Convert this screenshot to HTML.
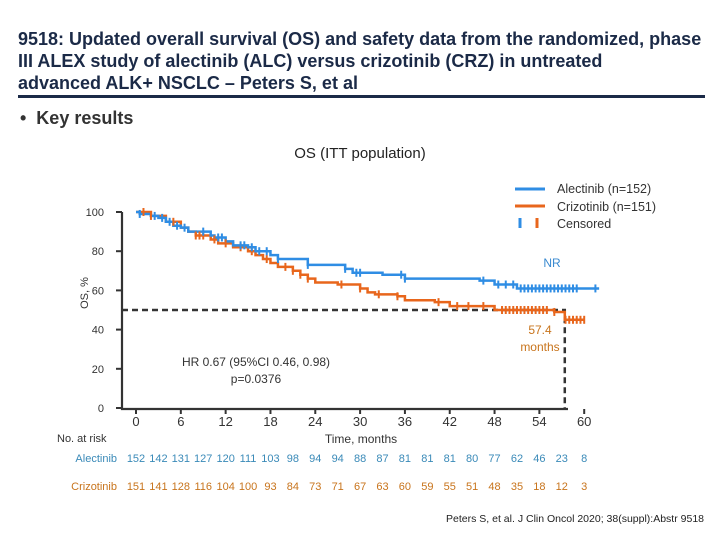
<!DOCTYPE html>
<html><head><meta charset="utf-8"><style>
body{margin:0;width:720px;height:540px;background:#fff;overflow:hidden;font-family:"Liberation Sans",sans-serif;position:relative}
.t{position:absolute;left:18px;top:28px;font-weight:bold;font-size:18px;line-height:22px;color:#1b2a47;transform:scaleX(1.0);transform-origin:left top;white-space:nowrap}
.rule{position:absolute;left:18px;top:95px;width:687px;height:3px;background:#1b2a47}
.kr{position:absolute;left:20px;top:108px;font-size:18px;font-weight:bold;color:#333;white-space:nowrap}
</style></head><body>
<div class="t">9518: Updated overall survival (OS) and safety data from the randomized, phase<br>III ALEX study of alectinib (ALC) versus crizotinib (CRZ) in untreated<br>advanced ALK+ NSCLC – Peters S, et al</div>
<div class="rule"></div>
<div class="kr">•&nbsp;&nbsp;Key results</div>
<svg id="c" width="720" height="540" style="position:absolute;left:0;top:0" font-family="Liberation Sans, sans-serif"></svg>
<script>
const xTicks=[0,6,12,18,24,30,36,42,48,54,60];
const yTicks=[0,20,40,60,80,100];
const alcT=[0,0.5,2,3,4,5,6,7,10,10.5,12,13,15,16,18,19,23,28,29,33,36,46,48,51,62];
const alcS=[100,99,98,97,95,93,92,90,88,87,85,83,82,80,78,76,73,71,69,68,66,65,63,61,61];
const crzT=[0,2,4,6,7,8,10,11,13,15,16,17,18,19,21,22,23,24,27,30,31,32,35,36,40,42,48,56,57.4,60];
const crzS=[100,98,95,92,90,88,86,84,82,80,78,76,74,72,70,68,66,64,63,61,59,58,57,55,54,52,50,49,45,45];
const alcCens=[0.5,2.5,3.5,4.5,5.5,6.5,9,11,11.5,14,14.5,15.5,16.5,17.5,19,23,28,29.5,30,35.5,36,46.5,48.5,49.5,50.5,51.5,52,52.5,53,53.5,54,54.5,55,55.5,56,56.5,57,57.5,58,58.5,59,61.5];
const crzCens=[1,2,5,8,8.5,9,10.5,12,14,15.5,17.5,20,21,22,23,27.5,30,32.5,35,40.5,43,44.5,46.5,49,49.5,50,50.5,51,51.5,52,52.5,53,53.5,54,54.5,55,56,57.5,58,58.5,59,59.5,60];
const alcRisk=[152,142,131,127,120,111,103,98,94,94,88,87,81,81,81,80,77,62,46,23,8];
const crzRisk=[151,141,128,116,104,100,93,84,73,71,67,63,60,59,55,51,48,35,18,12,3];
const BLUE='#2f8de4',ORANGE='#e8661c';
const sx=t=>136+t*7.47, sy=s=>408-s*1.96;
const svg=document.getElementById('c');const NS='http://www.w3.org/2000/svg';
function mk(tag,a,txt){const e=document.createElementNS(NS,tag);for(const k in a)e.setAttribute(k,a[k]);if(txt!==undefined)e.textContent=txt;svg.appendChild(e);return e;}
let e;
e=mk('text',{x:360,y:158,'font-size':15,'text-anchor':'middle',fill:'#222'},'OS (ITT population)');


e=mk('path',{d:'M122 212 V409 H568',stroke:'#333','stroke-width':2.2,fill:'none'});


yTicks.forEach(v=>{mk('line',{x1:116,x2:122,y1:sy(v),y2:sy(v),stroke:'#333','stroke-width':2});
e=mk('text',{x:104,y:sy(v)+4,'font-size':11,'text-anchor':'end',fill:'#333'},v);

});
xTicks.forEach(v=>{mk('line',{x1:sx(v),x2:sx(v),y1:409,y2:414,stroke:'#333','stroke-width':2});
e=mk('text',{x:sx(v),y:426,'font-size':13,'text-anchor':'middle',fill:'#333'},v);

});
e=mk('text',{x:88,y:293,'font-size':11,'text-anchor':'middle',fill:'#333',transform:'rotate(-90 88 293)'},'OS, %');


e=mk('text',{x:361,y:443,'font-size':12,'text-anchor':'middle',fill:'#333'},'Time, months');


e=mk('path',{d:`M122 ${sy(50)} H${sx(57.4)} V409`,stroke:'#333','stroke-width':2.5,'stroke-dasharray':'6 4',fill:'none'});


function step(T,S){let d=`M${sx(T[0])} ${sy(S[0])}`;for(let i=1;i<T.length;i++){d+=` H${sx(T[i])} V${sy(S[i])}`;}return d;}
function sAt(T,S,t){let s=S[0];for(let i=0;i<T.length;i++){if(T[i]<=t)s=S[i];}return s;}
e=mk('path',{d:step(crzT,crzS),stroke:ORANGE,'stroke-width':2.5,fill:'none'});


e=mk('path',{d:step(alcT,alcS),stroke:BLUE,'stroke-width':2.5,fill:'none'});


crzCens.forEach(t=>{const y=sy(sAt(crzT,crzS,t));e=mk('line',{x1:sx(t),x2:sx(t),y1:y-4,y2:y+4,stroke:ORANGE,'stroke-width':2});

});
alcCens.forEach(t=>{const y=sy(sAt(alcT,alcS,t));e=mk('line',{x1:sx(t),x2:sx(t),y1:y-4,y2:y+4,stroke:BLUE,'stroke-width':2});

});
e=mk('text',{x:552,y:267,'font-size':12,'text-anchor':'middle',fill:'#3a8ad0'},'NR');


e=mk('text',{x:540,y:334,'font-size':12,'text-anchor':'middle',fill:'#c8741c'},'57.4');


e=mk('text',{x:540,y:351,'font-size':12,'text-anchor':'middle',fill:'#c8741c'},'months');


e=mk('text',{x:256,y:366,'font-size':12,'text-anchor':'middle',fill:'#333'},'HR 0.67 (95%CI 0.46, 0.98)');


e=mk('text',{x:256,y:383,'font-size':12,'text-anchor':'middle',fill:'#333'},'p=0.0376');


mk('line',{x1:515,x2:545,y1:189,y2:189,stroke:BLUE,'stroke-width':3});
mk('line',{x1:515,x2:545,y1:206,y2:206,stroke:ORANGE,'stroke-width':3});
mk('line',{x1:520,x2:520,y1:218,y2:228,stroke:BLUE,'stroke-width':3});
mk('line',{x1:537,x2:537,y1:218,y2:228,stroke:ORANGE,'stroke-width':3});
[['Alectinib (n=152)',193,'legend-alectinib'],['Crizotinib (n=151)',211,'legend-crizotinib'],['Censored',228,'legend-censored']].forEach(a=>{e=mk('text',{x:557,y:a[1],'font-size':12.5,fill:'#333'},a[0]);

});
e=mk('text',{x:57,y:442,'font-size':11,fill:'#333'},'No. at risk');


e=mk('text',{x:117,y:462,'font-size':11,'text-anchor':'end',fill:'#3a8ab8'},'Alectinib');


e=mk('text',{x:117,y:490,'font-size':11,'text-anchor':'end',fill:'#c8741c'},'Crizotinib');


alcRisk.forEach((v,i)=>{e=mk('text',{x:sx(i*3),y:462,'font-size':11,'text-anchor':'middle',fill:'#3a8ab8'},v);

});
crzRisk.forEach((v,i)=>{e=mk('text',{x:sx(i*3),y:490,'font-size':11,'text-anchor':'middle',fill:'#c8741c'},v);

});
e=mk('text',{x:704,y:522,'font-size':10.5,'text-anchor':'end',fill:'#222'},'Peters S, et al. J Clin Oncol 2020; 38(suppl):Abstr 9518');


</script>
</body></html>
